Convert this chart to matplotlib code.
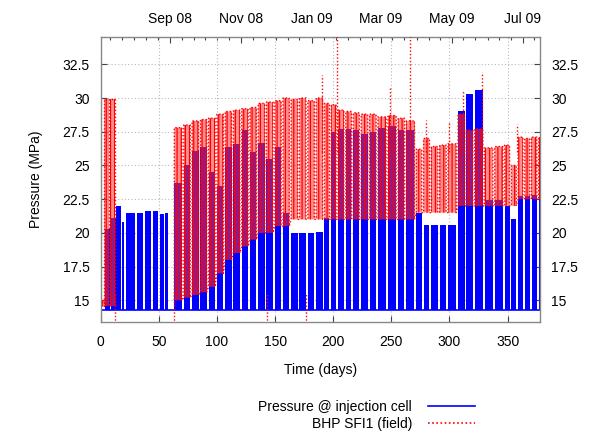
import numpy as np
import matplotlib.pyplot as plt
from matplotlib.lines import Line2D
from matplotlib.ticker import FixedLocator

plt.rcParams['font.family'] = ['Liberation Sans', 'DejaVu Sans']
plt.rcParams['font.size'] = 10
plt.rcParams['hatch.linewidth'] = 0.9

# pressure recorded in the injection cell when the well is shut in (MPa)
base_pressure = 14.25

# early injection test (days 0-58): blue pulses only
early_start = [3.5, 8.8, 13.5, 18.2, 21.6, 25.6, 31.6, 37.9, 44.6, 50.6, 55.0]
early_end = [8.3, 12.8, 17.6, 20.3, 25.0, 29.7, 36.7, 43.6, 49.7, 54.6, 57.9]
early_top = [20.3, 21.1, 22.0, 20.8, 21.5, 21.5, 21.5, 21.6, 21.6, 21.4, 21.5]

# field BHP during the early test
early_red_start = [0.8, 2.6, 7.8]
early_red_end = [2.6, 7.3, 12.4]
early_red_top = [15.0, 29.9, 29.9]
early_red_low = [14.6, 14.6, 14.6]

# weekly shut-ins of the main injection period (day of each gap)
shut_in_days = [70.7, 77.8, 85.0, 92.0, 99.2, 106.3, 113.4, 120.5, 127.6, 134.7,
                141.8, 149.0, 156.0, 163.0, 170.2, 177.4, 184.5, 191.7, 197.5, 203.3,
                210.0, 216.5, 223.3, 230.5, 237.7, 246.3, 255.0, 262.1, 270.7, 277.0,
                283.6, 290.8, 298.0, 306.6, 313.8, 320.9, 329.5, 338.2, 346.8, 352.5,
                358.3, 364.0, 369.8, 376.0]
main_first_day = 63.3
main_last_day = 378.0

# per injection week: simulated cell pressure and field BHP range
blue_top = [23.7, 25.0, 26.1, 26.4, 24.5, 23.5, 26.4, 26.6, 27.6, 26.0,
            26.7, 25.5, 26.4, 21.5, 20.0, 20.0, 20.0, 20.1, 21.1, 27.5,
            27.7, 27.7, 27.6, 27.3, 27.5, 27.8, 27.9, 27.6, 27.6, 21.5,
            20.6, 20.6, 20.6, 20.6, 29.0, 30.3, 30.6, 22.4, 22.4, 22.0,
            21.0, 22.7, 22.7, 22.8, 22.8]
red_top = [27.8, 28.0, 28.3, 28.4, 28.5, 28.8, 29.0, 29.1, 29.2, 29.3,
           29.6, 29.7, 29.8, 30.0, 29.9, 30.0, 29.8, 30.0, 29.6, 29.5,
           29.1, 29.0, 28.9, 28.8, 28.8, 28.6, 28.7, 28.5, 28.3, 26.2,
           27.0, 26.4, 26.5, 26.6, 28.8, 27.6, 27.7, 26.3, 26.4, 26.5,
           25.0, 27.1, 27.0, 27.1, 27.1]
red_low = [15.0, 15.2, 15.4, 15.6, 16.0, 17.0, 18.0, 18.5, 19.0, 19.5,
           20.0, 20.0, 20.5, 20.5, 21.0, 21.0, 21.0, 21.0, 21.0, 21.0,
           21.0, 21.0, 21.0, 21.0, 21.0, 21.0, 21.0, 21.0, 21.0, 21.5,
           21.5, 21.5, 21.5, 21.5, 22.0, 22.0, 22.0, 22.0, 22.0, 22.0,
           22.0, 22.5, 22.5, 22.5, 22.5]

# isolated BHP readings outside the usual range
spike_day = [12.6, 62.8, 143.0, 176.5, 190.0, 203.3, 249.0, 266.4, 279.5, 300.0, 312.0, 328.0, 358.0]
spike_value = [12.0, 12.0, 12.0, 12.0, 31.7, 40.0, 30.9, 40.0, 28.4, 28.3, 30.6, 31.9, 28.1]

# top axis calendar
start_date = np.datetime64('2008-07-03')
month_labels = ['Sep 08', 'Nov 08', 'Jan 09', 'Mar 09', 'May 09', 'Jul 09']
month_dates = ['2008-09-01', '2008-11-01', '2009-01-01', '2009-03-01', '2009-05-01', '2009-07-01']

SHUT_IN = 1.6  # width of a weekend gap in days


def pulse_path(starts, ends, tops, lows):
    xs, ys, ls = [], [], []
    for s, e, t, lo in zip(starts, ends, tops, lows):
        xs += [s, s, e, e]
        ys += [lo, t, t, lo]
        ls += [lo] * 4
    return np.array(xs), np.array(ys), np.array(ls)


main_start = [main_first_day] + [d + SHUT_IN / 2 for d in shut_in_days]
main_end = [d - SHUT_IN / 2 for d in shut_in_days] + [main_last_day]

starts = early_start + main_start
ends = early_end + main_end
tops = early_top + blue_top
bx, by, _ = pulse_path(starts, ends, tops, [base_pressure] * len(starts))

fig = plt.figure(figsize=(5.89, 4.34), dpi=100)
ax = fig.add_axes([0.171, 0.259, 0.746, 0.655])

blue = '#0000ff'
ax.fill_between(bx, base_pressure, by, color=blue, linewidth=0, zorder=2)
ax.plot([0, main_last_day], [base_pressure, base_pressure], color=blue, lw=1.2, zorder=2)

# field BHP (red dotted)
for rs, re_, rt, rl in [(early_red_start, early_red_end, early_red_top, early_red_low),
                        (main_start, main_end, red_top, red_low)]:
    rx, ry, rlo = pulse_path(rs, re_, rt, rl)
    ax.fill_between(rx, rlo, ry, facecolor=(1, 0.2, 0.2, 0.55), edgecolor='red',
                    hatch='||||', linewidth=0, zorder=3)
    ax.plot(rx, ry, color='red', lw=1.0, linestyle=(0, (1, 1.5)), zorder=3)

low_spikes = [(d, v) for d, v in zip(spike_day, spike_value) if v < base_pressure]
high_spikes = [(d, v) for d, v in zip(spike_day, spike_value) if v > base_pressure]
ax.vlines([d for d, v in low_spikes], [v for d, v in low_spikes], 15.5,
          colors='red', lw=1.0, linestyles=[(0, (1, 1.5))], zorder=3)
ax.vlines([d for d, v in high_spikes], 26.0, [v for d, v in high_spikes],
          colors='red', lw=1.0, linestyles=[(0, (1, 1.5))], zorder=3)

ax.set_xlim(0, 378)
ax.set_ylim(13.42, 34.5)
ax.set_xticks(np.arange(0, 351, 50))
ax.set_yticks([15, 17.5, 20, 22.5, 25, 27.5, 30, 32.5])
ax.set_yticklabels(['15', '17.5', '20', '22.5', '25', '27.5', '30', '32.5'])
ax.tick_params(direction='in', length=4, width=0.8, color='#444444',
               right=True, labelright=True, top=False, pad=8)
ax.tick_params(axis='x', pad=10)
ax.grid(True, color='#b8b8b8', linestyle=(0, (1, 2)), lw=0.8)
ax.set_axisbelow(True)
for sp in ax.spines.values():
    sp.set_color('#888888')
    sp.set_linewidth(1.0)

ax.set_xlabel('Time (days)', labelpad=10)
ax.set_ylabel('Pressure (MPa)', labelpad=14)

# calendar axis on top
mdays = (np.array(month_dates, dtype='datetime64[D]') - start_date).astype(float)
minor = []
for m in np.arange(np.datetime64('2008-07'), np.datetime64('2009-08'), dtype='datetime64[M]'):
    for off in (0, 10, 20):
        d = (m.astype('datetime64[D]') + off - start_date).astype(float)
        if 0 < d < 378:
            minor.append(d)
top = ax.secondary_xaxis('top')
top.set_xticks(mdays, labels=month_labels)
top.xaxis.set_minor_locator(FixedLocator(minor))
top.tick_params(which='both', direction='in', color='#444444', width=0.8, pad=8)
top.tick_params(which='major', length=4)
top.tick_params(which='minor', length=2)
top.spines['top'].set_visible(False)

handles = [Line2D([], [], color=blue, lw=1.2),
           Line2D([], [], color='red', lw=1.2, linestyle=(0, (1, 1.5)))]
fig.legend(handles, ['Pressure @ injection cell', 'BHP SFI1 (field)'],
           loc='center right', bbox_to_anchor=(0.806, 0.043), frameon=False,
           markerfirst=False, handlelength=3.4, handletextpad=1.1,
           labelspacing=0.2, borderpad=0, borderaxespad=0)

fig.savefig('out.png', dpi=100)
